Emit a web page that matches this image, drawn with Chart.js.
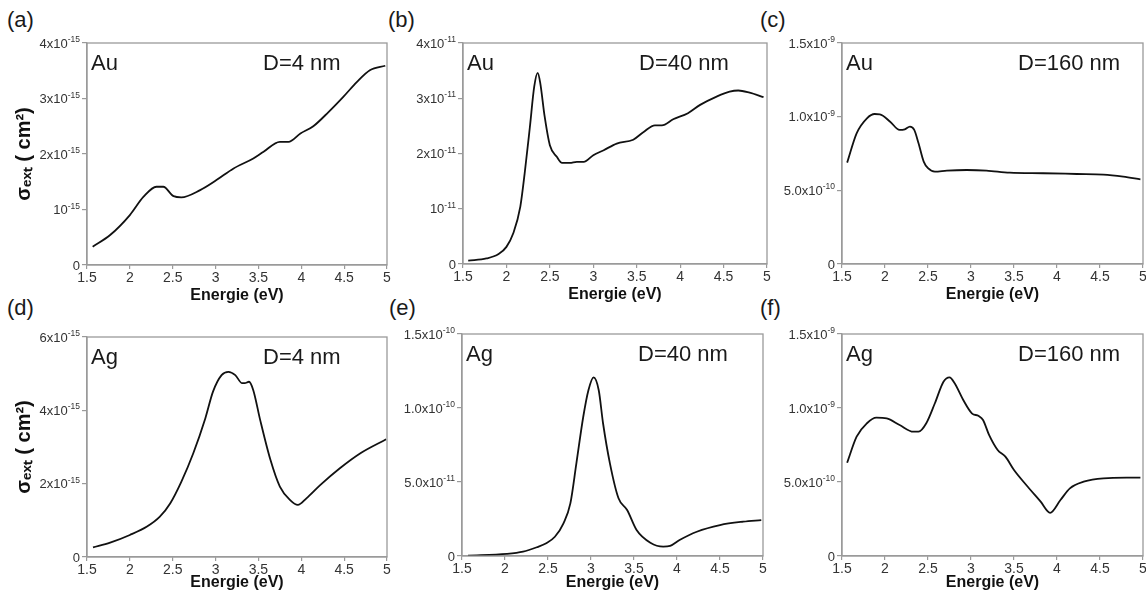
<!DOCTYPE html>
<html>
<head>
<meta charset="utf-8">
<script src="https://cdn.jsdelivr.net/npm/chart.js@4.4.1/dist/chart.umd.min.js"></script>
<style>
  html, body { margin:0; padding:0; background:#fff; width:1146px; height:600px; overflow:hidden; position:relative; font-family:"Liberation Sans", Arial, sans-serif; }
  .wrap { position:absolute; }
  .plab { position:absolute; font-size:22px; color:#1a1a1a; line-height:22px; }
</style>
</head>
<body>
<div class="plab" style="left:7px;top:9px;">(a)</div>
<div class="plab" style="left:388px;top:9px;">(b)</div>
<div class="plab" style="left:760px;top:9px;">(c)</div>
<div class="plab" style="left:7px;top:297px;">(d)</div>
<div class="plab" style="left:389px;top:297px;">(e)</div>
<div class="plab" style="left:760px;top:297px;">(f)</div>
<script>
// ---- Data (energies in eV, cross-sections in the unit noted) ----
const xTickValues = [1.5, 2, 2.5, 3, 3.5, 4, 4.5, 5];
const xTickLabels = ["1.5", "2", "2.5", "3", "3.5", "4", "4.5", "5"];

// (a) Au, D=4 nm, sigma in 1e-15 cm^2
const energyAu4 = [1.566,1.77,2.0,2.16,2.31,2.39,2.51,2.6,2.82,3.01,3.21,3.44,3.56,3.75,3.85,3.99,4.14,4.32,4.49,4.65,4.80,4.98];
const sigmaAu4  = [0.33,0.54,0.90,1.23,1.41,1.41,1.24,1.22,1.35,1.53,1.74,1.92,2.04,2.22,2.22,2.37,2.50,2.76,3.03,3.30,3.51,3.59];
const yTicksA = [0, 1, 2, 3, 4];
const yLabelsA = ["0", "10^-15", "2x10^-15", "3x10^-15", "4x10^-15"];

// (b) Au, D=40 nm, sigma in 1e-11 cm^2
const energyAu40 = [1.56,1.77,1.91,2.0,2.08,2.16,2.21,2.27,2.32,2.36,2.39,2.44,2.50,2.58,2.64,2.73,2.81,2.89,3.0,3.12,3.27,3.46,3.58,3.71,3.79,3.92,4.09,4.23,4.42,4.57,4.67,4.80,4.96];
const sigmaAu40  = [0.06,0.10,0.18,0.31,0.56,1.04,1.64,2.48,3.21,3.46,3.27,2.67,2.15,1.94,1.83,1.83,1.85,1.85,1.97,2.06,2.18,2.25,2.39,2.51,2.51,2.62,2.73,2.88,3.03,3.12,3.14,3.10,3.02];
const yTicksB = [0, 1, 2, 3, 4];
const yLabelsB = ["0", "10^-11", "2x10^-11", "3x10^-11", "4x10^-11"];

// (c) Au, D=160 nm, sigma in 1e-10 cm^2
const energyAu160 = [1.56,1.67,1.79,1.88,1.94,2.06,2.17,2.23,2.29,2.34,2.39,2.45,2.50,2.58,2.72,2.95,3.18,3.45,3.84,4.23,4.54,4.77,4.97];
const sigmaAu160  = [6.88,8.87,9.89,10.18,10.16,9.66,9.10,9.14,9.32,9.10,8.19,6.95,6.5,6.27,6.34,6.38,6.34,6.2,6.16,6.11,6.07,5.93,5.75];
const yTicksC = [0, 5, 10, 15];
const yLabelsC = ["0", "5.0x10^-10", "1.0x10^-9", "1.5x10^-9"];

// (d) Ag, D=4 nm, sigma in 1e-15 cm^2
const energyAg4 = [1.57,1.77,2.0,2.2,2.35,2.47,2.6,2.74,2.88,2.97,3.07,3.15,3.23,3.31,3.34,3.39,3.44,3.52,3.64,3.75,3.87,3.96,4.06,4.22,4.45,4.69,4.99];
const sigmaAg4  = [0.26,0.39,0.60,0.83,1.10,1.46,2.05,2.83,3.78,4.51,4.96,5.05,4.96,4.74,4.74,4.78,4.55,3.74,2.65,1.92,1.55,1.42,1.60,1.96,2.42,2.83,3.21];
const yTicksD = [0, 2, 4, 6];
const yLabelsD = ["0", "2x10^-15", "4x10^-15", "6x10^-15"];

// (e) Ag, D=40 nm, sigma in 1e-11 cm^2
const energyAg40 = [1.57,2.02,2.21,2.37,2.48,2.58,2.68,2.76,2.83,2.91,2.97,3.03,3.09,3.14,3.22,3.32,3.42,3.53,3.69,3.84,3.92,4.03,4.23,4.50,4.77,4.98];
const sigmaAg40  = [0.02,0.14,0.29,0.59,0.86,1.30,2.21,3.56,6.26,9.41,11.2,12.07,11.2,8.97,6.26,3.90,3.11,1.76,0.90,0.63,0.68,1.08,1.64,2.09,2.32,2.43];
const yTicksE = [0, 5, 10, 15];
const yLabelsE = ["0", "5.0x10^-11", "1.0x10^-10", "1.5x10^-10"];

// (f) Ag, D=160 nm, sigma in 1e-10 cm^2
const energyAg160 = [1.56,1.67,1.79,1.90,2.02,2.17,2.33,2.39,2.48,2.58,2.68,2.75,2.81,2.91,3.01,3.09,3.14,3.21,3.31,3.40,3.50,3.66,3.81,3.92,4.04,4.15,4.31,4.54,4.81,4.97];
const sigmaAg160  = [6.30,8.06,8.97,9.35,9.30,8.85,8.40,8.40,8.97,10.32,11.78,12.07,11.67,10.54,9.64,9.46,9.19,8.18,7.16,6.71,5.81,4.68,3.67,2.92,3.78,4.57,5.02,5.25,5.29,5.29];
const yTicksF = [0, 5, 10, 15];
const yLabelsF = ["0", "5.0x10^-10", "1.0x10^-9", "1.5x10^-9"];

const yTitle = "σₑₓₜ ( cm²)";
const xTitle = "Energie (eV)";

// ---- Drawing ----
const FRAME = "#9a9a9a";
const TICKC = "#333333";
const FONT = "'Liberation Sans', Arial, sans-serif";

const framePlugin = {
  id: 'frame',
  afterDraw(chart, args, opts) {
    const {ctx, chartArea: a} = chart;
    ctx.save();
    ctx.strokeStyle = FRAME;
    ctx.lineWidth = 1.3;
    ctx.strokeRect(a.left, a.top, a.right - a.left, a.bottom - a.top);
    // panel annotations
    ctx.fillStyle = "#1a1a1a";
    ctx.font = "22px " + FONT;
    ctx.textBaseline = "alphabetic";
    ctx.textAlign = "left";
    ctx.fillText(opts.metal, a.left + 4, a.top + 27);
    ctx.fillText(opts.diam, a.left + 176, a.top + 27);
    // y tick labels with superscript exponents, placed by the y scale
    const ys = chart.scales.y;
    const xEnd = ys.right - 7;
    ctx.fillStyle = TICKC;
    ys.ticks.forEach((t, i) => {
      const py = ys.getPixelForValue(t.value);
      const parts = opts.labels[i].split('^');
      const mant = parts[0], expo = parts[1] || '';
      ctx.font = "8.5px " + FONT;
      const ew = expo ? ctx.measureText(expo).width : 0;
      ctx.font = "13px " + FONT;
      const mw = ctx.measureText(mant).width;
      ctx.textAlign = "left";
      ctx.fillText(mant, xEnd - ew - mw, py + 4.5);
      if (expo) {
        ctx.font = "8.5px " + FONT;
        ctx.fillText(expo, xEnd - ew, py - 1);
      }
    });
    ctx.restore();
  }
};

function panel(cfg) {
  const yW = cfg.yW, topPad = cfg.topPad, xH = cfg.xH, rightPad = 5;
  const w = yW + (cfg.R - cfg.L) + rightPad;
  const h = topPad + (cfg.B - cfg.T) + xH;
  const div = document.createElement('div');
  div.className = 'wrap';
  div.style.left = (cfg.L - yW) + 'px';
  div.style.top = (cfg.T - topPad) + 'px';
  div.style.width = w + 'px';
  div.style.height = h + 'px';
  const cv = document.createElement('canvas');
  cv.width = w; cv.height = h;
  cv.style.width = w + 'px'; cv.style.height = h + 'px';
  div.appendChild(cv);
  document.body.appendChild(div);
  const pts = cfg.energy.map((e, i) => ({x: e, y: cfg.sigma[i]}));
  new Chart(cv, {
    type: 'line',
    data: { datasets: [{ data: pts, borderColor: '#111', borderWidth: 1.8, pointRadius: 0, fill: false, cubicInterpolationMode: 'monotone' }] },
    options: {
      responsive: false, animation: false, devicePixelRatio: 1,
      layout: { padding: { top: topPad, right: rightPad, left: 0, bottom: 0 } },
      plugins: { legend: { display: false }, tooltip: { enabled: false }, frame: { metal: cfg.metal, diam: cfg.diam, labels: cfg.yLabels } },
      scales: {
        x: {
          type: 'linear', min: 1.5, max: 5,
          afterBuildTicks: (s) => { s.ticks = xTickValues.map(v => ({value: v})); },
          afterFit: (s) => { s.height = xH; },
          grid: { display: true, drawOnChartArea: false, drawTicks: true, tickLength: 4, color: FRAME, lineWidth: 1.2 },
          border: { display: true, color: FRAME, width: 1.3 },
          ticks: { color: TICKC, font: { size: 14, family: FONT }, padding: 1, maxRotation: 0, autoSkip: false,
                   callback: (v, i) => xTickLabels[i] },
          title: { display: true, text: xTitle, color: '#111', font: { size: 16, weight: 'bold', family: FONT }, padding: { top: 0, bottom: cfg.xTitlePad } }
        },
        y: {
          type: 'linear', min: 0, max: cfg.yMax,
          afterBuildTicks: (s) => { s.ticks = cfg.yTicks.map(v => ({value: v})); },
          afterFit: (s) => { s.width = yW; },
          grid: { display: true, drawOnChartArea: false, drawTicks: true, tickLength: 5, color: FRAME, lineWidth: 1.2 },
          border: { display: true, color: FRAME, width: 1.3 },
          ticks: { display: false },
          title: { display: !!cfg.showYTitle, text: yTitle, color: '#111', font: { size: 20, weight: 'bold', family: FONT }, padding: { top: 12, bottom: 0 } }
        }
      }
    },
    plugins: [framePlugin]
  });
}

panel({L:87, R:387, T:43, B:265, yW:87, topPad:14, xH:42, xTitlePad:2, energy: energyAu4, sigma: sigmaAu4, yMax:4, yTicks:yTicksA, yLabels:yLabelsA, metal:"Au", diam:"D=4 nm", showYTitle:true});
panel({L:463, R:767, T:43, B:264, yW:72, topPad:14, xH:42, xTitlePad:2, energy: energyAu40, sigma: sigmaAu40, yMax:4, yTicks:yTicksB, yLabels:yLabelsB, metal:"Au", diam:"D=40 nm"});
panel({L:842, R:1143, T:43, B:264, yW:82, topPad:14, xH:42, xTitlePad:2, energy: energyAu160, sigma: sigmaAu160, yMax:15, yTicks:yTicksC, yLabels:yLabelsC, metal:"Au", diam:"D=160 nm"});
panel({L:87, R:387, T:337, B:557, yW:87, topPad:14, xH:43, xTitlePad:8, energy: energyAg4, sigma: sigmaAg4, yMax:6, yTicks:yTicksD, yLabels:yLabelsD, metal:"Ag", diam:"D=4 nm", showYTitle:true});
panel({L:462, R:763, T:334, B:556, yW:82, topPad:14, xH:44, xTitlePad:8, energy: energyAg40, sigma: sigmaAg40, yMax:15, yTicks:yTicksE, yLabels:yLabelsE, metal:"Ag", diam:"D=40 nm"});
panel({L:842, R:1143, T:334, B:556, yW:82, topPad:14, xH:44, xTitlePad:8, energy: energyAg160, sigma: sigmaAg160, yMax:15, yTicks:yTicksF, yLabels:yLabelsF, metal:"Ag", diam:"D=160 nm"});
</script>
</body>
</html>
